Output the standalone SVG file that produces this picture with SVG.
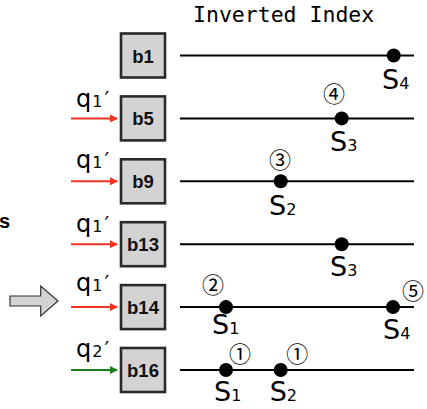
<svg xmlns="http://www.w3.org/2000/svg" width="427" height="409" viewBox="0 0 427 409">
<style>
.box{fill:#d3d3d3;stroke:#2a2a2a;stroke-width:2.6}
.bl{font-family:"Liberation Sans",Arial,sans-serif;font-weight:bold;font-size:18.5px;text-anchor:middle;fill:#111}
.ln{stroke:#000;stroke-width:2;fill:none}
.dot{fill:#000}
.s{font-family:"DejaVu Sans",sans-serif;font-size:27px;fill:#000}
.s .sub{font-size:16px}
.q{font-family:"DejaVu Sans",sans-serif;font-size:24px;fill:#000}
.q .sub{font-size:16px}
.q .pr{font-size:21px}
.c{font-family:"Noto Sans CJK JP","DejaVu Sans",sans-serif;font-size:22px;text-anchor:middle;fill:#000}
.ar{stroke-width:2;fill:none}
</style>
<defs>
<marker id="mr" markerWidth="8" markerHeight="8" refX="7" refY="4" orient="auto" markerUnits="userSpaceOnUse"><path d="M0,0 L8,4 L0,8 Z" fill="#ee3322"/></marker>
<marker id="mg" markerWidth="8" markerHeight="8" refX="7" refY="4" orient="auto" markerUnits="userSpaceOnUse"><path d="M0,0 L8,4 L0,8 Z" fill="#1a7f1a"/></marker>
</defs>
<text x="193" y="22" font-family="DejaVu Sans Mono,monospace" font-size="21.5">Inverted Index</text>
<text x="-1" y="228" font-family="Liberation Sans,Arial,sans-serif" font-weight="bold" font-size="20">s</text>
<path d="M10,296 L40.7,296 L40.7,286 L58,301 L40.7,316 L40.7,306 L10,306 Z" fill="#d3d3d3" stroke="#333" stroke-width="1.2"/>
<g id="connectors">
<line x1="71" y1="118.4" x2="117" y2="118.4" class="ar" stroke="#ee3322" marker-end="url(#mr)"/>
<line x1="71" y1="181.3" x2="117" y2="181.3" class="ar" stroke="#ee3322" marker-end="url(#mr)"/>
<line x1="71" y1="244.2" x2="117" y2="244.2" class="ar" stroke="#ee3322" marker-end="url(#mr)"/>
<line x1="71" y1="307.1" x2="117" y2="307.1" class="ar" stroke="#ee3322" marker-end="url(#mr)"/>
<line x1="71" y1="370" x2="117" y2="370" class="ar" stroke="#1a7f1a" marker-end="url(#mg)"/>
<line x1="180" y1="55.5" x2="414" y2="55.5" class="ln"/>
<line x1="180" y1="118.4" x2="414" y2="118.4" class="ln"/>
<line x1="180" y1="181.3" x2="414" y2="181.3" class="ln"/>
<line x1="180" y1="244.2" x2="414" y2="244.2" class="ln"/>
<line x1="180" y1="307.1" x2="414" y2="307.1" class="ln"/>
<line x1="180" y1="370" x2="414" y2="370" class="ln"/>
</g>
<g id="q-labels">
<text x="76" y="107" class="q">q<tspan class="sub" dx="1">1</tspan><tspan class="pr" dx="2">′</tspan></text>
<text x="76" y="168" class="q">q<tspan class="sub" dx="1">1</tspan><tspan class="pr" dx="2">′</tspan></text>
<text x="76" y="232" class="q">q<tspan class="sub" dx="1">1</tspan><tspan class="pr" dx="2">′</tspan></text>
<text x="76" y="291" class="q">q<tspan class="sub" dx="1">1</tspan><tspan class="pr" dx="2">′</tspan></text>
<text x="76" y="357" class="q">q<tspan class="sub" dx="1">2</tspan><tspan class="pr" dx="2">′</tspan></text>
</g>
<g id="b1"><rect x="121" y="33.5" width="44" height="44" class="box"/><text x="143" y="62.5" class="bl">b1</text></g>
<g id="b5"><rect x="121" y="96.4" width="44" height="44" class="box"/><text x="143" y="125.4" class="bl">b5</text></g>
<g id="b9"><rect x="121" y="159.3" width="44" height="44" class="box"/><text x="143" y="188.3" class="bl">b9</text></g>
<g id="b13"><rect x="121" y="222.2" width="44" height="44" class="box"/><text x="143" y="251.2" class="bl">b13</text></g>
<g id="b14"><rect x="121" y="285.1" width="44" height="44" class="box"/><text x="143" y="314.1" class="bl">b14</text></g>
<g id="b16"><rect x="121" y="348" width="44" height="44" class="box"/><text x="143" y="377" class="bl">b16</text></g>
<g id="postings">
<circle cx="393.7" cy="55.5" r="7" class="dot"/>
<text x="382" y="89" class="s">S<tspan class="sub">4</tspan></text>
<circle cx="341.7" cy="118.4" r="7" class="dot"/>
<text x="334" y="102" class="c">④</text>
<text x="330" y="151" class="s">S<tspan class="sub">3</tspan></text>
<circle cx="280.7" cy="181.3" r="7" class="dot"/>
<text x="280" y="168" class="c">③</text>
<text x="269" y="215" class="s">S<tspan class="sub">2</tspan></text>
<circle cx="341.7" cy="244.2" r="7" class="dot"/>
<text x="330" y="276" class="s">S<tspan class="sub">3</tspan></text>
<circle cx="226" cy="307.1" r="7" class="dot"/>
<circle cx="393" cy="307.1" r="7" class="dot"/>
<text x="213" y="293" class="c">②</text>
<text x="413" y="298.5" class="c">⑤</text>
<text x="212" y="334" class="s">S<tspan class="sub">1</tspan></text>
<text x="383" y="339" class="s">S<tspan class="sub">4</tspan></text>
<circle cx="226" cy="370" r="7" class="dot"/>
<circle cx="280.7" cy="370" r="7" class="dot"/>
<text x="240" y="362" class="c">①</text>
<text x="297.3" y="362" class="c">①</text>
<text x="214" y="401" class="s">S<tspan class="sub">1</tspan></text>
<text x="269.7" y="401" class="s">S<tspan class="sub">2</tspan></text>
</g>
</svg>
